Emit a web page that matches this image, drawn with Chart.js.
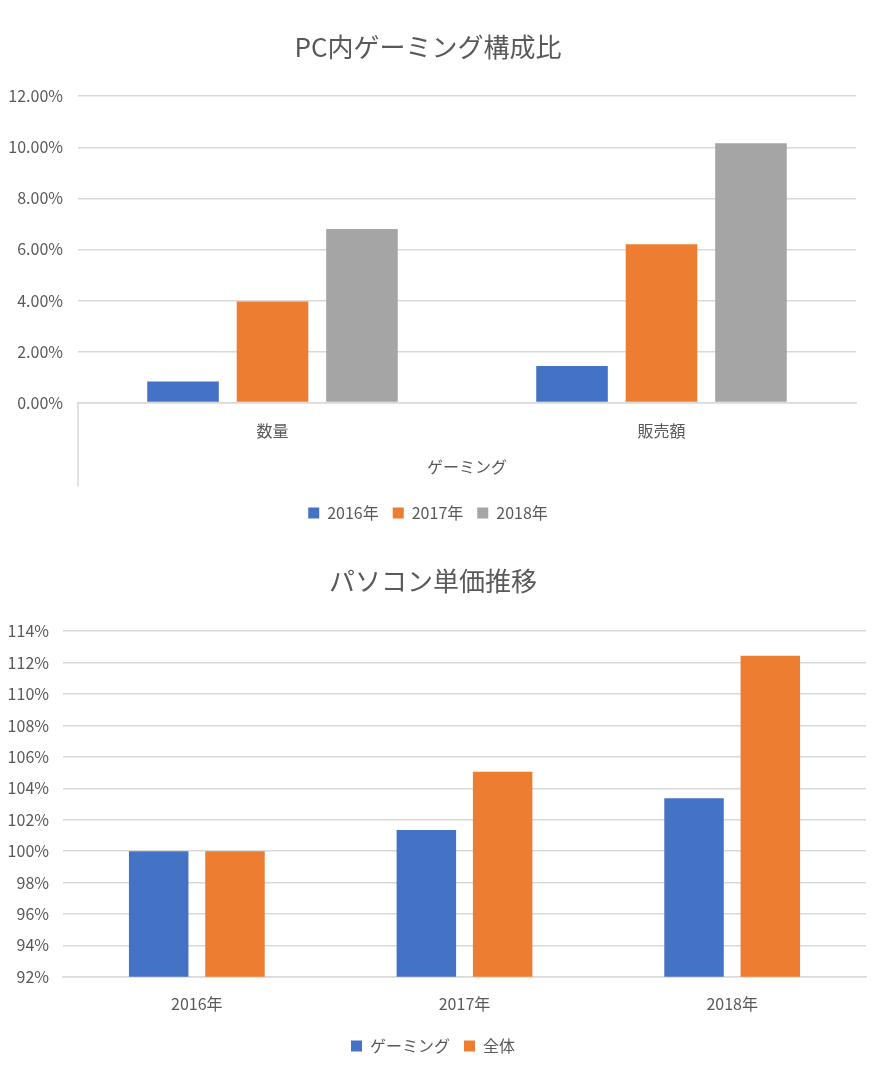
<!DOCTYPE html>
<html>
<head>
<meta charset="utf-8">
<script src="https://cdn.jsdelivr.net/npm/chart.js@4"></script>
<style>
  body { margin: 0; background: #fff; }
  .box { position: relative; width: 894px; height: 540px; }
</style>
</head>
<body>
<div class="box"><canvas id="GamingShare"></canvas></div>
<div class="box"><canvas id="UnitPrice"></canvas></div>
<script>
// PC内ゲーミング構成比 (%)
const shareLabels = ['数量', '販売額'];
const share2016 = [0.83, 1.43];
const share2017 = [3.96, 6.20];
const share2018 = [6.80, 10.16];

// パソコン単価推移 (%)
const priceLabels = ['2016年', '2017年', '2018年'];
const priceGaming = [100, 101.34, 103.37];
const priceTotal = [100, 105.06, 112.44];

const FONT = "'Noto Sans CJK JP', 'Noto Sans', sans-serif";
const TEXT = '#595959';
const GRID = '#d9d9d9';
Chart.defaults.font.family = FONT;
Chart.defaults.color = TEXT;

// left divider line under the category axis
const groupLine = {
    id: 'groupLine',
    afterDraw(chart) {
        const a = chart.chartArea, c = chart.ctx;
        c.save();
        c.strokeStyle = GRID;
        c.lineWidth = 1.5;
        c.beginPath();
        c.moveTo(a.left, a.bottom);
        c.lineTo(a.left, a.bottom + 84);
        c.stroke();
        c.restore();
    }
};

const legendOpts = {
    position: 'bottom',
    labels: { boxWidth: 11, boxHeight: 11, font: { size: 16 }, padding: 14 }
};

new Chart(document.getElementById('GamingShare'), {
    type: 'bar',
    data: {
        labels: shareLabels,
        datasets: [
            { label: '2016年', data: share2016, backgroundColor: '#4472c4' },
            { label: '2017年', data: share2017, backgroundColor: '#ed7d31' },
            { label: '2018年', data: share2018, backgroundColor: '#a5a5a5' }
        ]
    },
    options: {
        responsive: true,
        maintainAspectRatio: false,
        animation: false,
        layout: { padding: { left: 0, right: 38, bottom: 9 } },
        datasets: { bar: { categoryPercentage: 0.69, barPercentage: 0.8 } },
        plugins: {
            title: { display: true, text: 'PC内ゲーミング構成比', font: { size: 26, weight: 'normal' }, color: TEXT, padding: { top: 32, bottom: 33 } },
            legend: legendOpts,
            tooltip: { enabled: false }
        },
        scales: {
            x: {
                grid: { display: false },
                border: { color: GRID, width: 1.5 },
                ticks: { font: { size: 16 }, color: TEXT, padding: 11 },
                title: { display: true, text: 'ゲーミング', font: { size: 16 }, color: TEXT, padding: { top: 6, bottom: 14 } }
            },
            y: {
                min: 0, max: 12,
                ticks: { stepSize: 2, font: { size: 16 }, color: TEXT, padding: 15, callback: v => v.toFixed(2) + '%' },
                grid: { color: GRID, lineWidth: 1.5, drawTicks: false },
                border: { display: false },
                afterFit(scale) { scale.width = 78; }
            }
        }
    },
    plugins: [groupLine]
});

new Chart(document.getElementById('UnitPrice'), {
    type: 'bar',
    data: {
        labels: priceLabels,
        datasets: [
            { label: 'ゲーミング', data: priceGaming, backgroundColor: '#4472c4' },
            { label: '全体', data: priceTotal, backgroundColor: '#ed7d31' }
        ]
    },
    options: {
        responsive: true,
        maintainAspectRatio: false,
        animation: false,
        layout: { padding: { left: 0, right: 28, bottom: 16 } },
        datasets: { bar: { categoryPercentage: 0.57, barPercentage: 0.78 } },
        plugins: {
            title: { display: true, text: 'パソコン単価推移', font: { size: 26, weight: 'normal' }, color: TEXT, padding: { top: 26, bottom: 34 } },
            legend: legendOpts,
            tooltip: { enabled: false }
        },
        scales: {
            x: {
                grid: { display: false },
                border: { color: GRID, width: 1.5 },
                ticks: { font: { size: 16 }, color: TEXT, padding: 10 }
            },
            y: {
                min: 92, max: 114,
                ticks: { stepSize: 2, font: { size: 16 }, color: TEXT, padding: 14, callback: v => v + '%' },
                grid: { color: GRID, lineWidth: 1.5, drawTicks: false },
                border: { display: false },
                afterFit(scale) { scale.width = 63; }
            }
        }
    }
});
</script>
</body>
</html>
